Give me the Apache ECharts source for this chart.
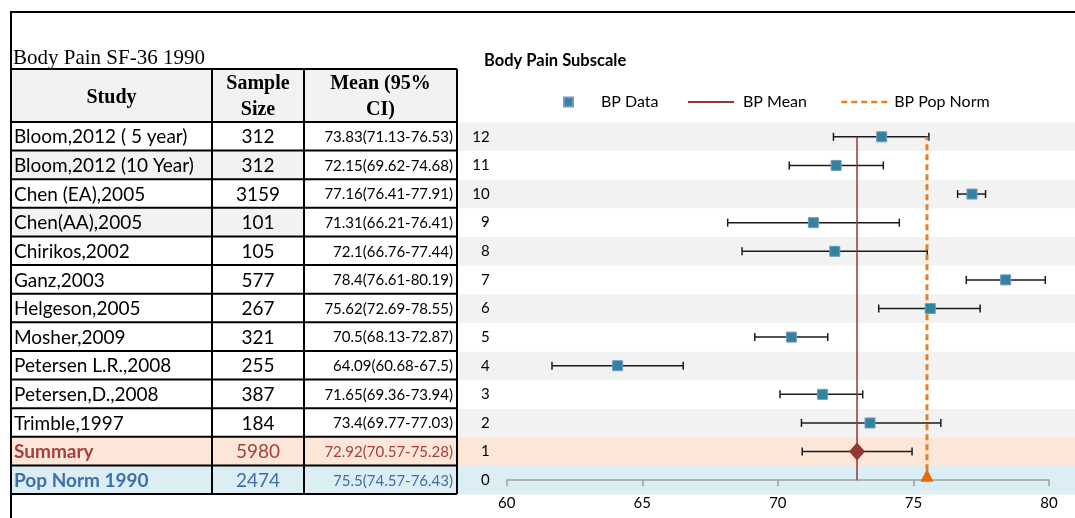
<!DOCTYPE html>
<html>
<head>
<meta charset="utf-8">
<script src="https://cdn.jsdelivr.net/npm/echarts@6/dist/echarts.min.js"></script>
<style>
  html, body { margin: 0; padding: 0; background: #fff; }
  #chart { width: 1075px; height: 518px; }
</style>
</head>
<body>
<div id="chart"></div>
<script>
// ---- Study table (SF-36 Body Pain) ----
const studies = [
  'Bloom,2012 ( 5 year)', 'Bloom,2012 (10 Year)', 'Chen (EA),2005', 'Chen(AA),2005',
  'Chirikos,2002', 'Ganz,2003', 'Helgeson,2005', 'Mosher,2009',
  'Petersen L.R.,2008', 'Petersen,D.,2008', 'Trimble,1997'
];
const sampleSizes = [312, 312, 3159, 101, 105, 577, 267, 321, 255, 387, 184];
const means  = [73.83, 72.15, 77.16, 71.31, 72.1, 78.4, 75.62, 70.5, 64.09, 71.65, 73.4];
const ciLow  = [71.13, 69.62, 76.41, 66.21, 66.76, 76.61, 72.69, 68.13, 60.68, 69.36, 69.77];
const ciHigh = [76.53, 74.68, 77.91, 76.41, 77.44, 80.19, 78.55, 72.87, 67.5, 73.94, 77.03];

// Whisker ends as plotted in the forest plot
const whiskerLow  = [72.05, 70.42, 76.63, 68.15, 68.68, 76.95, 73.72, 69.15, 61.67, 70.08, 70.87];
const whiskerHigh = [75.57, 73.89, 77.66, 74.48, 75.51, 79.86, 77.46, 71.84, 66.51, 73.13, 76.01];
const studyRows   = [12, 11, 10, 9, 8, 7, 6, 5, 4, 3, 2];

const summaryLabel = 'Summary';
const summaryN = 5980;
const summaryMean = 72.92;
const summaryCiLow = 70.57;
const summaryCiHigh = 75.28;
const summaryWhisker = [70.9, 74.95];
const summaryRow = 1;

const popLabel = 'Pop Norm 1990';
const popN = 2474;
const popMean = 75.5;
const popCiLow = 74.57;
const popCiHigh = 76.43;
const popRow = 0;

const xTicks = { min: 60, max: 80, step: 5 };
const yTicks = { min: 0, max: 12, step: 1 };

// ---- layout ----
const W = 1075, H = 518;
const COLS = [11, 212, 304, 457];
const HEAD_TOP = 69, HEAD_BOT = 122, TABLE_BOT = 494;
const NROWS = studies.length + 2;
const ROW_H = (TABLE_BOT - HEAD_BOT) / NROWS;
const SANS = 'Lato, "Open Sans", sans-serif';
const SERIF = '"Liberation Serif", "DejaVu Serif", serif';

const RED = '#943634', ORANGE = '#EE7D1E', TEAL = '#31849B';
const SUM_TEXT = '#A6403C', POP_TEXT = '#3F6FA8';
const BAND_GREY = '#F2F2F2', BAND_PEACH = '#FCE6D8', BAND_BLUE = '#DBEEF3';

const fmtCI = (m, lo, hi) => m + '(' + lo + '-' + hi + ')';

// table rows: studies, then summary and population norm
const tableRows = studies.map((s, i) => ({
  name: s, n: String(sampleSizes[i]), ci: fmtCI(means[i], ciLow[i], ciHigh[i]),
  color: '#000', bold: false, bg: (i === 1 || i === 3) ? BAND_GREY : null
}));
tableRows.push({ name: summaryLabel, n: String(summaryN), ci: fmtCI(summaryMean, summaryCiLow, summaryCiHigh),
  color: SUM_TEXT, bold: true, bg: BAND_PEACH });
tableRows.push({ name: popLabel, n: String(popN), ci: fmtCI(popMean, popCiLow, popCiHigh),
  color: POP_TEXT, bold: true, bg: BAND_BLUE });

const graphics = [];
// outer frame
graphics.push({ type: 'line', shape: { x1: 10, y1: 12, x2: W, y2: 12 }, style: { stroke: '#000', lineWidth: 2 }, z: 10 });
graphics.push({ type: 'line', shape: { x1: 11, y1: 12, x2: 11, y2: H }, style: { stroke: '#000', lineWidth: 2 }, z: 10 });
// caption
graphics.push({ type: 'text', style: { text: 'Body Pain SF-36 1990', x: 13, y: 58, font: '21px ' + SERIF, fill: '#000', verticalAlign: 'middle' }, z: 10 });
// header
graphics.push({ type: 'rect', shape: { x: COLS[0], y: HEAD_TOP, width: COLS[3] - COLS[0], height: HEAD_BOT - HEAD_TOP }, style: { fill: BAND_GREY }, z: 5 });
const headFont = 'bold 20px ' + SERIF;
const headMid = (HEAD_TOP + HEAD_BOT) / 2;
graphics.push({ type: 'text', style: { text: 'Study', x: (COLS[0] + COLS[1]) / 2, y: headMid + 2, font: headFont, align: 'center', verticalAlign: 'middle', fill: '#000' }, z: 10 });
graphics.push({ type: 'text', style: { text: 'Sample', x: (COLS[1] + COLS[2]) / 2, y: headMid - 12, font: headFont, align: 'center', verticalAlign: 'middle', fill: '#000' }, z: 10 });
graphics.push({ type: 'text', style: { text: 'Size', x: (COLS[1] + COLS[2]) / 2, y: headMid + 14, font: headFont, align: 'center', verticalAlign: 'middle', fill: '#000' }, z: 10 });
graphics.push({ type: 'text', style: { text: 'Mean (95%', x: (COLS[2] + COLS[3]) / 2, y: headMid - 12, font: headFont, align: 'center', verticalAlign: 'middle', fill: '#000' }, z: 10 });
graphics.push({ type: 'text', style: { text: 'CI)', x: (COLS[2] + COLS[3]) / 2, y: headMid + 14, font: headFont, align: 'center', verticalAlign: 'middle', fill: '#000' }, z: 10 });

tableRows.forEach((r, k) => {
  const top = HEAD_BOT + k * ROW_H;
  const mid = top + ROW_H / 2 + 1;
  if (r.bg) {
    const right = r.bold ? COLS[3] : COLS[2];
    graphics.push({ type: 'rect', shape: { x: COLS[0], y: top, width: right - COLS[0], height: ROW_H }, style: { fill: r.bg }, z: 5 });
  }
  graphics.push({ type: 'text', style: { text: r.name, x: COLS[0] + 3, y: mid, font: (r.bold ? 'bold ' : '') + '19px ' + SANS, fill: r.color, verticalAlign: 'middle' }, z: 10 });
  graphics.push({ type: 'text', style: { text: r.n, x: (COLS[1] + COLS[2]) / 2, y: mid, font: '19px ' + SANS, fill: r.color, align: 'center', verticalAlign: 'middle' }, z: 10 });
  graphics.push({ type: 'text', style: { text: r.ci, x: COLS[3] - 4, y: mid, font: '15px ' + SANS, fill: r.color, align: 'right', verticalAlign: 'middle' }, z: 10 });
});
// grid lines of the table
for (let k = 0; k <= NROWS; k++) {
  const y = HEAD_BOT + k * ROW_H;
  graphics.push({ type: 'line', shape: { x1: COLS[0], y1: y, x2: COLS[3], y2: y }, style: { stroke: '#000', lineWidth: 2 }, z: 11 });
}
graphics.push({ type: 'line', shape: { x1: COLS[0], y1: HEAD_TOP, x2: COLS[3], y2: HEAD_TOP }, style: { stroke: '#000', lineWidth: 2 }, z: 11 });
COLS.forEach(x => {
  graphics.push({ type: 'line', shape: { x1: x, y1: HEAD_TOP, x2: x, y2: TABLE_BOT }, style: { stroke: '#000', lineWidth: 2 }, z: 11 });
});

// ---- plot ----
const bandRows = [];
for (let r = popRow; r <= 12; r++) bandRows.push([0, 1, r]);
const bandColor = r => r === popRow ? BAND_BLUE : r === summaryRow ? BAND_PEACH : (r % 2 === 0 ? BAND_GREY : '#FFFFFF');

const whiskerData = studyRows.map((r, i) => [whiskerLow[i], whiskerHigh[i], r]);
whiskerData.push([summaryWhisker[0], summaryWhisker[1], summaryRow]);

const legendText = { fontFamily: SANS, fontSize: 16, color: '#000' };

const chart = echarts.init(document.getElementById('chart'), null, { renderer: 'canvas' });
chart.setOption({
  animation: false,
  backgroundColor: '#fff',
  title: {
    text: 'Body Pain Subscale', left: 484, top: 52, padding: 0,
    textStyle: { fontFamily: SANS, fontSize: 16.5, fontWeight: 'bold', color: '#000' }
  },
  legend: [
    { data: ['BP Data'], left: 563, top: 94, padding: 0, icon: 'rect', itemWidth: 9, itemHeight: 9,
      textStyle: Object.assign({ padding: [0, 0, 0, 23] }, legendText) },
    { data: ['BP Mean'], left: 687, top: 94, padding: 0, itemWidth: 46, itemHeight: 14,
      itemStyle: { opacity: 0 }, textStyle: Object.assign({ padding: [0, 0, 0, 4] }, legendText) },
    { data: ['BP Pop Norm'], left: 840, top: 94, padding: 0, itemWidth: 46, itemHeight: 14,
      itemStyle: { opacity: 0 }, lineStyle: { width: 2.5 },
      textStyle: Object.assign({ padding: [0, 0, 0, 2] }, legendText) }
  ],
  graphic: graphics,
  grid: [
    { left: 506.7, right: W - 1049, top: 136.8, bottom: H - 480.2 },
    { left: COLS[3] + 1, right: 0, top: HEAD_BOT + 0.5, bottom: H - TABLE_BOT - 0.5 }
  ],
  xAxis: [
    { gridIndex: 0, type: 'value', min: xTicks.min, max: xTicks.max, interval: xTicks.step,
      axisLine: { onZero: false, lineStyle: { color: '#A0A0A0', width: 1.5 } },
      axisTick: { show: true, length: 6, lineStyle: { color: '#A0A0A0', width: 1.5 } },
      axisLabel: { color: '#000', fontFamily: SANS, fontSize: 15, margin: 15 },
      splitLine: { show: false } },
    { gridIndex: 1, type: 'value', min: 0, max: 1, show: false }
  ],
  yAxis: [
    { gridIndex: 0, type: 'value', min: yTicks.min, max: yTicks.max, interval: yTicks.step,
      axisLine: { show: false }, axisTick: { show: false }, splitLine: { show: false },
      axisLabel: { color: '#000', fontFamily: SANS, fontSize: 15, margin: 17 } },
    { gridIndex: 1, type: 'value', min: yTicks.min - 0.5, max: yTicks.max + 0.5, show: false }
  ],
  series: [
    {
      type: 'custom', name: 'bands', xAxisIndex: 1, yAxisIndex: 1, silent: true, z: 0,
      data: bandRows,
      renderItem: (params, api) => {
        const r = api.value(2);
        const p0 = api.coord([api.value(0), r + 0.5]);
        const p1 = api.coord([api.value(1), r - 0.5]);
        return { type: 'rect', shape: { x: p0[0], y: p0[1], width: p1[0] - p0[0], height: p1[1] - p0[1] },
                 style: { fill: bandColor(r) } };
      }
    },
    {
      type: 'custom', name: 'whiskers', silent: true, z: 2,
      data: whiskerData,
      renderItem: (params, api) => {
        const a = api.coord([api.value(0), api.value(2)]);
        const b = api.coord([api.value(1), api.value(2)]);
        const cap = 4;
        const st = { stroke: '#1A1A1A', lineWidth: 1.5 };
        return { type: 'group', children: [
          { type: 'line', shape: { x1: a[0], y1: a[1], x2: b[0], y2: b[1] }, style: st },
          { type: 'line', shape: { x1: a[0], y1: a[1] - cap, x2: a[0], y2: a[1] + cap }, style: st },
          { type: 'line', shape: { x1: b[0], y1: b[1] - cap, x2: b[0], y2: b[1] + cap }, style: st }
        ] };
      }
    },
    {
      type: 'line', name: 'BP Mean', z: 3, symbol: 'none',
      data: [[summaryMean, yTicks.min], [summaryMean, yTicks.max]],
      lineStyle: { color: RED, width: 1.5 }, itemStyle: { color: RED }
    },
    {
      type: 'line', name: 'BP Pop Norm', z: 3, symbol: 'none',
      data: [[popMean, yTicks.min], [popMean, yTicks.max]],
      lineStyle: { color: ORANGE, width: 3, type: [6, 4] }, itemStyle: { color: ORANGE }
    },
    {
      type: 'scatter', name: 'BP Data', z: 5, symbol: 'rect', symbolSize: 10,
      data: studyRows.map((r, i) => [means[i], r]),
      itemStyle: { color: TEAL, borderColor: '#7396C8', borderWidth: 1, opacity: 1 }
    },
    {
      type: 'scatter', name: summaryLabel, z: 5, symbol: 'diamond', symbolSize: [16, 18],
      data: [[summaryMean, summaryRow]], itemStyle: { color: RED, opacity: 1 }
    },
    {
      type: 'scatter', name: popLabel, z: 5, symbol: 'triangle', symbolSize: [13, 13],
      symbolOffset: [0, -5],
      data: [[popMean, popRow]], itemStyle: { color: '#E46C0A', opacity: 1 }
    }
  ]
});
</script>
</body>
</html>
